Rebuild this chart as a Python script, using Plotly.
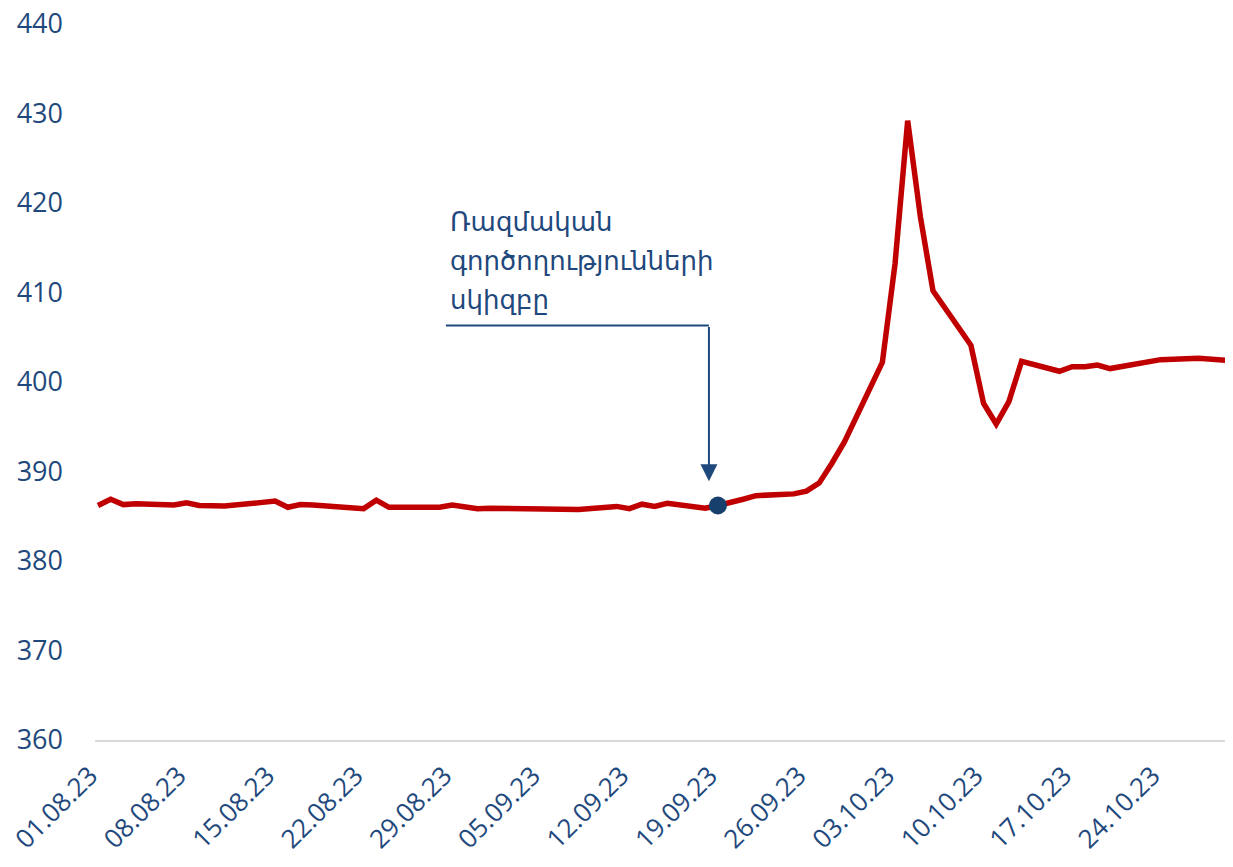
import pandas as pd
import plotly.graph_objects as go

# ---- data ----
dates = pd.bdate_range("2023-08-01", "2023-10-30")  # business days
values_aug = [386.2, 386.9, 386.3, 386.4, 386.25, 386.5, 386.2, 386.15, 386.15,
              386.55, 386.7, 386.0, 386.3, 386.25, 386.05, 385.85, 386.8, 386.0,
              386.0, 386.0, 386.25, 386.0, 385.85]
values_sep = [385.9, 385.9, 385.9, 385.9, 385.75, 385.75, 386.1, 385.85, 386.35,
              386.1, 386.45, 385.9, 386.2, 386.5, 386.9, 387.3, 387.5, 387.8,
              388.7, 390.9, 393.3]
values_oct = [402.2, 413.2, 429.2, 418.5, 410.2, 404.1, 397.6, 395.3, 397.8,
              402.3, 401.2, 401.7, 401.7, 401.9, 401.5, 402.3, 402.5, 402.55,
              402.6, 402.65, 402.35]
values = values_aug + values_sep + values_oct

event_date = "2023-09-19"
event_lines = ["Ռազմական", "գործողությունների", "սկիզբը"]

tick_dates = pd.date_range("2023-08-01", "2023-10-24", freq="7D")
tick_labels = [d.strftime("%d.%m.%y") for d in tick_dates]
y_ticks = [360, 370, 380, 390, 400, 410, 420, 430, 440]

# ---- style ----
RED = "#C00000"
BLUE = "#1F497D"
FONT = "Open Sans, DejaVu Sans, sans-serif"

series = pd.Series(values, index=dates)
event_value = series[pd.Timestamp(event_date)]

fig = go.Figure()
fig.add_trace(go.Scatter(x=series.index, y=series.values, mode="lines",
                         line=dict(color=RED, width=5.5), showlegend=False,
                         hoverinfo="x+y"))
fig.add_trace(go.Scatter(x=[pd.Timestamp(event_date)], y=[event_value], mode="markers",
                         marker=dict(color="#17406D", size=18), showlegend=False))

# annotation bracket: horizontal line + downward arrow
x_left = pd.Timestamp("2023-08-28 12:00")
x_arrow = pd.Timestamp("2023-09-18 07:00")
y_bracket = 406.3
fig.add_shape(type="line", xref="x", yref="y", x0=x_left, x1=x_arrow,
              y0=y_bracket, y1=y_bracket, line=dict(color=BLUE, width=2))
fig.add_annotation(x=x_arrow, y=388.9, xref="x", yref="y", text="",
                   showarrow=True, axref="x", ayref="y", ax=x_arrow, ay=y_bracket,
                   arrowhead=2, arrowsize=1.7, arrowwidth=2, arrowcolor=BLUE)

text_x = pd.Timestamp("2023-08-28 16:00")
for line, yv in zip(event_lines, [418.0, 413.6, 409.3]):
    fig.add_annotation(x=text_x, y=yv, xref="x", yref="y", text=line,
                       showarrow=False, xanchor="left", yanchor="middle",
                       font=dict(family=FONT, size=26, color=BLUE))

# page body has an 8px margin: size the figure so the page does not scroll
fig.update_layout(
    width=1217, height=851,
    margin=dict(l=87, r=0, t=16, b=119, autoexpand=False),
    paper_bgcolor="white", plot_bgcolor="white",
    font=dict(family=FONT, color=BLUE),
)
fig.update_xaxes(
    type="date", automargin=False,
    range=[pd.Timestamp("2023-07-31 18:18"), pd.Timestamp("2023-10-29 02:00")],
    tickvals=list(tick_dates), ticktext=tick_labels, tickangle=-45,
    tickfont=dict(family=FONT, size=26, color=BLUE),
    showgrid=False, zeroline=False,
    showline=True, linecolor="#D9D9D9", linewidth=2,
    ticks="", ticklabelstandoff=8, ticklabelshift=-8,
    ticklabeloverflow="allow",
)
fig.update_yaxes(
    automargin=False,
    range=[360, 440], tickvals=y_ticks,
    tickfont=dict(family=FONT, size=27, color=BLUE),
    showgrid=False, zeroline=False, showline=False,
    ticks="", ticklabelstandoff=31, ticklabeloverflow="allow",
)

fig.write_html("out.html")
